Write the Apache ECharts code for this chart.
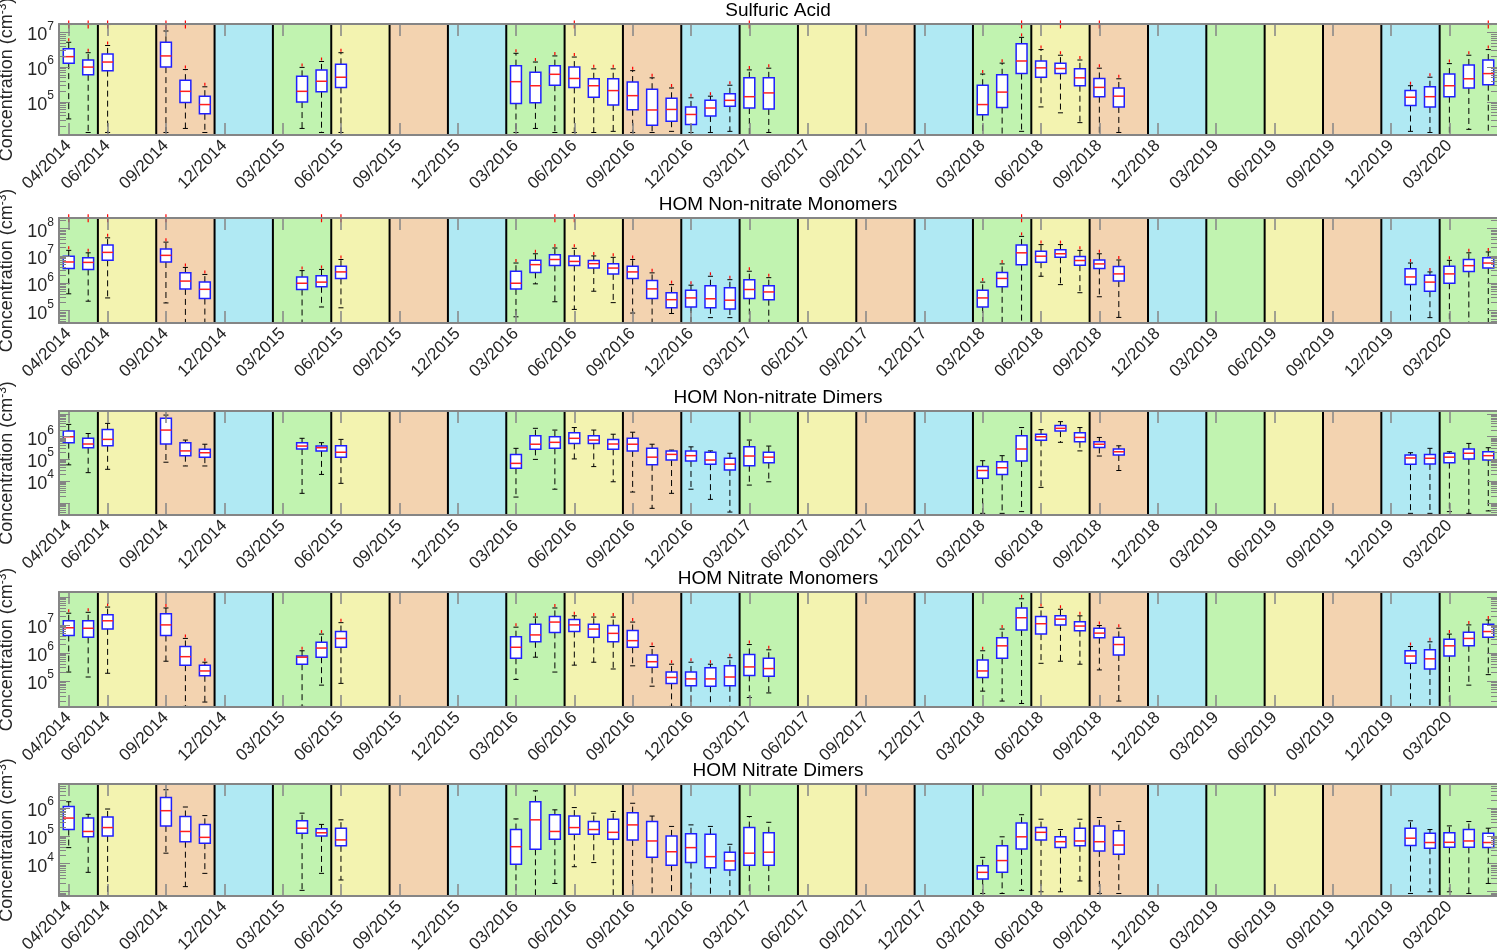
<!DOCTYPE html>
<html>
<head>
<meta charset="utf-8">
<title>Seasonal concentrations</title>
<script src="https://cdn.jsdelivr.net/npm/echarts@6/dist/echarts.min.js"></script>
<style>
  html, body { margin: 0; padding: 0; background: #fff; }
  #chart { width: 1497px; height: 950px; }
</style>
</head>
<body>
<div id="chart"></div>
<script>
// monthly categories, 04/2014 .. 05/2020
const months = [
  '04/2014','05/2014','06/2014','07/2014','08/2014','09/2014','10/2014','11/2014','12/2014',
  '01/2015','02/2015','03/2015','04/2015','05/2015','06/2015','07/2015','08/2015','09/2015','10/2015','11/2015','12/2015',
  '01/2016','02/2016','03/2016','04/2016','05/2016','06/2016','07/2016','08/2016','09/2016','10/2016','11/2016','12/2016',
  '01/2017','02/2017','03/2017','04/2017','05/2017','06/2017','07/2017','08/2017','09/2017','10/2017','11/2017','12/2017',
  '01/2018','02/2018','03/2018','04/2018','05/2018','06/2018','07/2018','08/2018','09/2018','10/2018','11/2018','12/2018',
  '01/2019','02/2019','03/2019','04/2019','05/2019','06/2019','07/2019','08/2019','09/2019','10/2019','11/2019','12/2019',
  '01/2020','02/2020','03/2020','04/2020','05/2020'
];

// labelled ticks = first month of each season
const tickLabels = [
  '04/2014','06/2014','09/2014','12/2014','03/2015','06/2015','09/2015','12/2015',
  '03/2016','06/2016','09/2016','12/2016','03/2017','06/2017','09/2017','12/2017',
  '03/2018','06/2018','09/2018','12/2018','03/2019','06/2019','09/2019','12/2019','03/2020'
];
const seasonKind = [
  'spring','summer','autumn','winter','spring','summer','autumn','winter',
  'spring','summer','autumn','winter','spring','summer','autumn','winter',
  'spring','summer','autumn','winter','spring','summer','autumn','winter','spring'
];
const seasonColor = { spring: '#c1f3b0', summer: '#f3f3b0', autumn: '#f3d3b0', winter: '#b0e9f3' };

// months that have a box
const boxMonths = [
  '04/2014','05/2014','06/2014','09/2014','10/2014','11/2014','04/2015','05/2015','06/2015',
  '03/2016','04/2016','05/2016','06/2016','07/2016','08/2016','09/2016','10/2016','11/2016',
  '12/2016','01/2017','02/2017','03/2017','04/2017',
  '03/2018','04/2018','05/2018','06/2018','07/2018','08/2018','09/2018','10/2018',
  '01/2020','02/2020','03/2020','04/2020','05/2020'
];

// [lower whisker, q1, median, q3, upper whisker] in cm-3
const sulfuricAcid = [
  [3.2e4, 1.3e6, 2.0e6, 3.4e6, 5.2e6], [1.3e4, 6.0e5, 1.0e6, 1.6e6, 2.6e6], [1.3e4, 7.9e5, 1.4e6, 2.4e6, 4.2e6],
  [1.3e4, 1.0e6, 2.1e6, 5.2e6, 1.1e7], [1.7e4, 9.5e4, 2.0e5, 4.2e5, 8.5e5], [1.3e4, 4.5e4, 8.3e4, 1.45e5, 2.7e5],
  [1.7e4, 9.8e4, 2.0e5, 5.4e5, 9.8e5], [1.3e4, 1.95e5, 3.9e5, 8.3e5, 1.45e6], [1.3e4, 2.6e5, 5.1e5, 1.2e6, 2.6e6],
  [1.3e4, 8.9e4, 3.8e5, 1.1e6, 2.5e6], [1.7e4, 9.3e4, 2.9e5, 7.1e5, 1.4e6], [1.3e4, 3.0e5, 6.2e5, 1.1e6, 2.1e6],
  [1.3e4, 2.6e5, 4.7e5, 1.0e6, 1.95e6], [1.3e4, 1.35e5, 2.9e5, 4.6e5, 8.9e5], [1.4e4, 8.1e4, 2.1e5, 4.6e5, 8.9e5],
  [1.3e4, 5.9e4, 1.5e5, 3.7e5, 7.9e5], [1.3e4, 2.1e4, 5.8e4, 2.3e5, 4.9e5], [1.4e4, 2.75e4, 6.0e4, 1.26e5, 2.5e5],
  [1.3e4, 2.2e4, 4.3e4, 7.1e4, 1.3e5], [1.3e4, 3.9e4, 6.6e4, 1.1e5, 1.45e5], [1.4e4, 7.4e4, 1.1e5, 1.7e5, 3.0e5],
  [1.1e4, 6.6e4, 1.4e5, 4.9e5, 8.3e5], [1.3e4, 6.2e4, 1.8e5, 4.9e5, 9.3e5],
  [1.1e4, 4.2e4, 8.3e4, 3.0e5, 6.3e5], [1.1e4, 6.8e4, 1.9e5, 6.0e5, 1.3e6], [1.4e4, 6.5e5, 1.5e6, 4.7e6, 7.2e6],
  [7.1e4, 5.1e5, 9.5e5, 1.5e6, 3.2e6], [4.8e4, 6.5e5, 9.1e5, 1.3e6, 2.2e6], [2.5e4, 2.9e5, 4.9e5, 8.9e5, 1.6e6],
  [1.1e4, 1.4e5, 2.6e5, 4.7e5, 9.3e5], [1.3e4, 7.1e4, 1.45e5, 2.5e5, 4.6e5],
  [1.4e4, 7.8e4, 1.35e5, 2.1e5, 2.9e5], [1.3e4, 7.1e4, 1.4e5, 2.7e5, 5.1e5], [1.1e4, 1.4e5, 2.9e5, 6.3e5, 1.26e6],
  [1.6e4, 2.5e5, 4.6e5, 1.15e6, 2.2e6], [1.1e4, 3.1e5, 6.5e5, 1.6e6, 3.2e6]
];
const nonNitrateMonomers = [
  [4.1e5, 3.5e6, 6.0e6, 9.8e6, 1.6e7], [2.2e5, 3.2e6, 5.8e6, 8.5e6, 1.3e7], [2.9e5, 6.9e6, 1.35e7, 2.5e7, 4.6e7],
  [1.9e5, 6.0e6, 1.05e7, 1.8e7, 3.2e7], [3.5e4, 6.2e5, 1.2e6, 2.4e6, 3.8e6], [3.5e4, 2.75e5, 6.0e5, 1.1e6, 2.1e6],
  [3.5e4, 5.9e5, 1.0e6, 1.7e6, 2.9e6], [1.35e5, 7.4e5, 1.1e6, 1.9e6, 3.2e6], [1.26e5, 1.5e6, 2.6e6, 4.2e6, 7.4e6],
  [5.9e4, 6.2e5, 1.0e6, 2.75e6, 5.5e6], [9.5e5, 2.5e6, 4.8e6, 6.9e6, 1.2e7], [2.1e5, 4.5e6, 7.4e6, 1.1e7, 1.95e7],
  [1.1e5, 4.5e6, 6.3e6, 1.0e7, 1.9e7], [5.1e5, 3.6e6, 5.2e6, 6.8e6, 1.0e7], [1.95e5, 2.2e6, 3.6e6, 5.2e6, 8.9e6],
  [8.1e4, 1.5e6, 2.6e6, 4.2e6, 7.4e6], [3.5e4, 2.75e5, 6.2e5, 1.26e6, 2.4e6], [7.8e4, 1.26e5, 2.5e5, 4.5e5, 8.9e5],
  [3.5e4, 1.35e5, 2.9e5, 5.5e5, 8.5e5], [5.5e4, 1.26e5, 2.7e5, 8.1e5, 1.8e6], [5.5e4, 1.15e5, 2.4e5, 6.8e5, 1.35e6],
  [3.5e4, 2.75e5, 5.9e5, 1.35e6, 2.75e6], [3.5e4, 2.5e5, 4.8e5, 8.1e5, 1.6e6],
  [3.5e4, 1.35e5, 2.9e5, 5.5e5, 1.1e6], [3.5e4, 7.4e5, 1.5e6, 2.5e6, 5.1e6], [3.5e4, 4.8e6, 1.3e7, 2.5e7, 5.2e7],
  [1.8e6, 5.9e6, 9.8e6, 1.5e7, 2.6e7], [8.9e5, 8.9e6, 1.2e7, 1.7e7, 2.6e7], [4.5e5, 4.6e6, 6.8e6, 9.5e6, 1.6e7],
  [3.2e5, 3.5e6, 5.1e6, 7.1e6, 1.2e7], [5.6e4, 1.2e6, 2.2e6, 4.1e6, 7.1e6],
  [3.5e4, 8.9e5, 1.7e6, 3.4e6, 5.5e6], [5.5e4, 5.1e5, 1.1e6, 1.95e6, 2.6e6], [3.5e4, 1.0e6, 2.2e6, 4.2e6, 6.9e6],
  [3.5e4, 2.7e6, 4.4e6, 7.4e6, 1.3e7], [3.5e4, 3.6e6, 5.5e6, 8.5e6, 1.4e7]
];
const nonNitrateDimers = [
  [5.4e4, 5.4e5, 1.0e6, 1.8e6, 3.6e6], [2.4e4, 3.2e5, 4.7e5, 8.5e5, 1.4e6], [3.4e4, 3.9e5, 7.6e5, 2.1e6, 4.0e6],
  [7.1e4, 4.7e5, 2.0e6, 6.8e6, 9.5e6], [4.8e4, 1.4e5, 2.3e5, 5.4e5, 7.1e5], [4.8e4, 1.2e5, 1.9e5, 2.7e5, 4.6e5],
  [2.8e3, 2.8e5, 3.8e5, 5.4e5, 8.5e5], [2.0e4, 2.3e5, 3.2e5, 3.8e5, 5.4e5], [7.9e3, 1.2e5, 2.0e5, 3.9e5, 7.6e5],
  [1.9e3, 3.8e4, 6.3e4, 1.6e5, 3.0e5], [9.5e4, 2.7e5, 4.6e5, 1.1e6, 2.4e6], [4.3e3, 3.0e5, 5.6e5, 1.0e6, 2.0e6],
  [1.0e5, 5.0e5, 8.5e5, 1.5e6, 2.6e6], [4.5e4, 5.0e5, 7.1e5, 1.1e6, 2.0e6], [9.3e3, 2.7e5, 4.7e5, 7.6e5, 1.3e6],
  [3.2e3, 2.3e5, 4.6e5, 8.5e5, 1.6e6], [590, 5.4e4, 1.2e5, 3.0e5, 4.6e5], [2.8e3, 8.9e4, 1.6e5, 2.3e5, 2.5e5],
  [4.3e3, 8.1e4, 1.4e5, 2.3e5, 3.5e5], [1.5e3, 5.8e4, 8.9e4, 2.0e5, 2.3e5], [400, 3.2e4, 5.8e4, 1.07e5, 1.8e5],
  [6.6e3, 4.9e4, 1.35e5, 3.5e5, 7.1e5], [9.3e3, 6.8e4, 1.2e5, 2.0e5, 3.8e5],
  [350, 1.35e4, 3.0e4, 4.5e4, 8.3e4], [350, 2.0e4, 4.0e4, 7.4e4, 1.4e5], [420, 8.1e4, 2.8e5, 1.1e6, 2.6e6],
  [5.2e3, 6.9e5, 1.0e6, 1.3e6, 2.1e6], [5.6e5, 1.8e6, 2.4e6, 3.2e6, 4.8e6], [2.3e5, 5.9e5, 9.3e5, 1.5e6, 2.6e6],
  [1.35e5, 3.3e5, 4.6e5, 5.9e5, 9.3e5], [3.0e4, 1.5e5, 2.1e5, 2.8e5, 3.9e5],
  [350, 5.8e4, 1.1e5, 1.5e5, 1.9e5], [350, 5.9e4, 1.07e5, 1.6e5, 3.0e5], [420, 6.8e4, 1.2e5, 1.8e5, 2.1e5],
  [350, 1.0e5, 1.8e5, 2.8e5, 5.0e5], [450, 8.9e4, 1.4e5, 2.1e5, 3.2e5]
];
const nitrateMonomers = [
  [2.1e5, 4.2e6, 7.9e6, 1.4e7, 2.6e7], [1.4e5, 3.6e6, 7.6e6, 1.4e7, 2.8e7], [1.9e5, 7.2e6, 1.4e7, 2.3e7, 4.3e7],
  [5.1e5, 4.2e6, 1.0e7, 2.5e7, 4.0e7], [1.26e4, 3.7e5, 7.4e5, 1.7e6, 3.3e6], [1.8e4, 1.55e5, 2.3e5, 3.7e5, 4.7e5],
  [1.26e4, 4.0e5, 7.1e5, 7.8e5, 1.2e6], [7.2e4, 7.1e5, 1.5e6, 2.4e6, 4.7e6], [8.3e4, 1.6e6, 3.3e6, 5.8e6, 1.2e7],
  [1.15e5, 6.5e5, 1.6e6, 3.8e6, 8.3e6], [7.1e5, 2.5e6, 4.4e6, 1.05e7, 1.9e7], [2.1e5, 5.4e6, 1.26e7, 2.0e7, 4.0e7],
  [3.7e5, 5.8e6, 1.0e7, 1.55e7, 2.1e7], [4.7e5, 3.6e6, 7.1e6, 1.05e7, 1.9e7], [2.7e5, 2.5e6, 5.0e6, 9.5e6, 1.9e7],
  [3.5e5, 1.6e6, 2.75e6, 6.3e6, 1.26e7], [6.6e4, 3.1e5, 4.9e5, 8.5e5, 1.7e6], [1.26e4, 8.3e4, 1.35e5, 2.1e5, 4.0e5],
  [1.2e4, 6.8e4, 1.2e5, 2.1e5, 4.7e5], [1.2e4, 6.6e4, 1.2e5, 3.0e5, 4.0e5], [1.2e4, 6.8e4, 1.4e5, 3.5e5, 6.8e5],
  [2.6e4, 1.6e5, 3.2e5, 8.9e5, 2.0e6], [3.8e4, 1.5e5, 2.8e5, 6.5e5, 1.3e6],
  [4.4e4, 1.35e5, 2.3e5, 5.6e5, 1.2e6], [1.95e4, 6.5e5, 1.8e6, 3.5e6, 7.1e6], [1.6e4, 6.6e6, 1.8e7, 4.0e7, 8.5e7],
  [4.3e5, 4.7e6, 1.1e7, 2.0e7, 4.2e7], [5.1e5, 1.0e7, 1.6e7, 2.1e7, 3.6e7], [4.0e5, 6.2e6, 9.1e6, 1.3e7, 2.1e7],
  [2.5e5, 3.5e6, 5.1e6, 7.6e6, 9.5e6], [1.95e4, 8.5e5, 2.0e6, 3.6e6, 7.6e6],
  [1.2e4, 4.3e5, 7.8e5, 1.2e6, 1.7e6], [1.2e4, 2.7e5, 6.2e5, 1.3e6, 2.5e6], [1.2e4, 7.8e5, 1.8e6, 3.1e6, 4.7e6],
  [7.2e4, 1.8e6, 3.3e6, 5.5e6, 1.0e7], [1.7e5, 3.6e6, 5.8e6, 1.05e7, 1.5e7]
];
const nitrateDimers = [
  [3.8e4, 1.7e5, 4.4e5, 1.15e6, 1.7e6], [4.9e3, 9.3e4, 1.45e5, 4.4e5, 6.0e5], [710, 1.0e5, 2.0e5, 4.8e5, 9.3e5],
  [2.4e4, 2.3e5, 8.1e5, 2.4e6, 4.6e6], [1.5e3, 6.2e4, 1.45e5, 5.0e5, 1.1e6], [4.5e3, 5.5e4, 8.9e4, 2.6e5, 5.4e5],
  [1.1e3, 1.26e5, 1.9e5, 3.5e5, 6.6e5], [4.5e3, 1.0e5, 1.3e5, 1.8e5, 2.6e5], [2.6e3, 4.4e4, 7.2e4, 1.9e5, 3.8e5],
  [710, 9.5e3, 4.1e4, 1.7e5, 4.1e5], [710, 3.3e4, 3.8e5, 1.7e6, 4.2e6], [1.95e3, 7.6e4, 1.45e5, 5.8e5, 8.7e5],
  [7.8e3, 1.15e5, 2.0e5, 5.2e5, 1.05e6], [1.1e4, 1.15e5, 1.7e5, 3.3e5, 6.6e5], [710, 7.6e4, 1.35e5, 4.0e5, 7.6e5],
  [710, 7.2e4, 2.5e5, 6.9e5, 1.5e6], [710, 1.7e4, 6.6e4, 3.3e5, 5.2e5], [710, 8.9e3, 2.7e4, 1.0e5, 2.2e5],
  [710, 1.1e4, 3.8e4, 1.2e5, 2.5e5], [710, 7.2e3, 1.8e4, 1.15e5, 2.2e5], [710, 5.9e3, 1.26e4, 2.6e4, 5.0e4],
  [710, 8.9e3, 2.4e4, 2.0e5, 5.0e5], [710, 8.9e3, 2.6e4, 1.3e5, 3.1e5],
  [850, 2.8e3, 4.9e3, 8.5e3, 1.7e4], [850, 4.9e3, 1.3e4, 4.4e4, 9.3e4], [1.1e3, 3.4e4, 9.3e4, 2.9e5, 5.8e5],
  [980, 7.2e4, 1.35e5, 2.0e5, 4.0e5], [980, 3.8e4, 6.2e4, 9.3e4, 1.7e5], [2.4e3, 4.4e4, 6.6e4, 1.9e5, 4.0e5],
  [850, 2.9e4, 6.2e4, 2.3e5, 4.6e5], [850, 2.2e4, 4.7e4, 1.55e5, 3.3e5],
  [850, 4.5e4, 8.3e4, 1.9e5, 3.5e5], [980, 3.6e4, 5.8e4, 1.26e5, 1.7e5], [980, 3.9e4, 5.9e4, 1.3e5, 2.3e5],
  [850, 3.9e4, 6.6e4, 1.7e5, 3.3e5], [1.95e3, 3.8e4, 5.8e4, 1.26e5, 1.9e5]
];

// outliers clipped at the top of the axes
const sulfuricOutlierMonths = ['04/2014','05/2014','06/2014','09/2014','10/2014','06/2016','03/2017','05/2018','07/2018','09/2018','05/2020'];
const sulfuricOutlierValue = 1.7e7;
const nonNitrateMonoOutlierMonths = ['04/2014','05/2014','06/2014','09/2014','05/2015','06/2015','05/2016','06/2016','05/2018'];
const nonNitrateMonoOutlierValue = 2.4e8;

const panels = [
  { title: 'Sulfuric Acid', data: sulfuricAcid, min: 1.1e4, max: 1.75e7, decades: [5, 6, 7],
    outMonths: sulfuricOutlierMonths, outValue: sulfuricOutlierValue, top: 24, height: 111, stub: true },
  { title: 'HOM Non-nitrate Monomers', data: nonNitrateMonomers, min: 3.5e4, max: 2.45e8, decades: [5, 6, 7, 8],
    outMonths: nonNitrateMonoOutlierMonths, outValue: nonNitrateMonoOutlierValue, top: 218, height: 105, stub: true },
  { title: 'HOM Non-nitrate Dimers', data: nonNitrateDimers, min: 295, max: 1.45e7, decades: [4, 5, 6],
    outMonths: [], outValue: 0, top: 411, height: 104, stub: false },
  { title: 'HOM Nitrate Monomers', data: nitrateMonomers, min: 1.2e4, max: 1.48e8, decades: [5, 6, 7],
    outMonths: [], outValue: 0, top: 592, height: 115, stub: true },
  { title: 'HOM Nitrate Dimers', data: nitrateDimers, min: 690, max: 7.4e6, decades: [4, 5, 6],
    outMonths: [], outValue: 0, top: 784, height: 112, stub: false }
];

const font = '"Liberation Sans", Arial, Helvetica, sans-serif';
const frame = '#858585';
const textColor = '#262626';
const seasonStart = tickLabels.map(l => months.indexOf(l));
const seasonData = seasonStart.map((s, k) => [s, k + 1 < seasonStart.length ? seasonStart[k + 1] : months.length, k]);
const isTick = (idx, value) => tickLabels.indexOf(value) >= 0;

function bandWidth(api, y) {
  return api.coord([1, y])[0] - api.coord([0, y])[0];
}

function seasonRenderer(yRef) {
  return function (params, api) {
    const cs = params.coordSys;
    const band = bandWidth(api, yRef);
    const x0 = api.coord([api.value(0), yRef])[0] - band / 2;
    const x1 = api.coord([api.value(1) - 1, yRef])[0] + band / 2;
    const children = [{
      type: 'rect',
      shape: { x: x0, y: cs.y, width: x1 - x0, height: cs.height },
      style: { fill: seasonColor[seasonKind[api.value(2)]] }
    }];
    if (api.value(0) > 0) {
      children.push({
        type: 'line',
        shape: { x1: x0, y1: cs.y, x2: x0, y2: cs.y + cs.height },
        style: { stroke: '#000', lineWidth: 2 }
      });
    }
    return { type: 'group', children: children };
  };
}

function boxRenderer(stub) {
  return function (params, api) {
    const idx = api.value(0);
    const lo = api.coord([idx, api.value(1)]);
    const q1 = api.coord([idx, api.value(2)]);
    const md = api.coord([idx, api.value(3)]);
    const q3 = api.coord([idx, api.value(4)]);
    const hi = api.coord([idx, api.value(5)]);
    const band = bandWidth(api, api.value(3));
    const w = band * 0.56;
    const c = band * 0.26;
    const x = md[0];
    const dash = { stroke: '#000', lineWidth: 1, lineDash: [6, 4] };
    const solid = { stroke: '#000', lineWidth: 1 };
    const children = [
      { type: 'line', shape: { x1: x, y1: q3[1], x2: x, y2: hi[1] }, style: dash },
      { type: 'line', shape: { x1: x, y1: q1[1], x2: x, y2: lo[1] }, style: dash },
      { type: 'line', shape: { x1: x - c / 2, y1: hi[1], x2: x + c / 2, y2: hi[1] }, style: solid },
      { type: 'line', shape: { x1: x - c / 2, y1: lo[1], x2: x + c / 2, y2: lo[1] }, style: solid },
      { type: 'rect', shape: { x: x - w / 2, y: q3[1], width: w, height: q1[1] - q3[1] },
        style: { fill: '#fff', stroke: '#1f1fff', lineWidth: 1.5 } },
      { type: 'line', shape: { x1: x - w / 2, y1: md[1], x2: x + w / 2, y2: md[1] },
        style: { stroke: '#ff2020', lineWidth: 1.5 } }
    ];
    if (stub) {
      children.push({ type: 'line', shape: { x1: x, y1: hi[1] - 4, x2: x, y2: hi[1] - 1 },
        style: { stroke: '#ff0000', lineWidth: 1.2 } });
    }
    return { type: 'group', children: children };
  };
}

function outlierRenderer(params, api) {
  const p = api.coord([api.value(0), api.value(1)]);
  const s = 4;
  const st = { stroke: '#ff0000', lineWidth: 1.2 };
  return { type: 'group', children: [
    { type: 'line', shape: { x1: p[0] - s, y1: p[1], x2: p[0] + s, y2: p[1] }, style: st },
    { type: 'line', shape: { x1: p[0], y1: p[1] - s, x2: p[0], y2: p[1] + s }, style: st }
  ] };
}

function decadeFormatter(decades) {
  return function (v) {
    const e = Math.log10(v);
    const r = Math.round(e);
    if (Math.abs(e - r) > 0.001 || decades.indexOf(r) < 0) return '';
    return '{b|10}{e|' + r + '}';
  };
}

const grid = [], xAxis = [], yAxis = [], series = [], title = [];

panels.forEach((p, i) => {
  grid.push({ left: 59, right: -1, top: p.top, height: p.height, containLabel: false, outerBoundsMode: 'none' });
  title.push({
    text: p.title, left: 778, top: p.top - 23, textAlign: 'center', padding: 0,
    textStyle: { fontFamily: font, fontSize: 19, fontWeight: 'normal', color: '#000' }
  });

  const tickStyle = { color: frame, width: 1.5 };
  xAxis.push({
    type: 'category', gridIndex: i, data: months, position: 'bottom', z: 10,
    axisLine: { show: true, lineStyle: { color: frame, width: 2 } },
    axisTick: { show: true, inside: true, length: 12, alignWithLabel: true, interval: isTick, lineStyle: tickStyle },
    axisLabel: { show: true, interval: isTick, rotate: 45, margin: 8, fontFamily: font, fontSize: 17, color: textColor },
    splitLine: { show: false }
  });
  xAxis.push({
    type: 'category', gridIndex: i, data: months, position: 'top', z: 10,
    axisLine: { show: true, lineStyle: { color: frame, width: 2 } },
    axisTick: { show: true, inside: true, length: 12, alignWithLabel: true, interval: isTick, lineStyle: tickStyle },
    axisLabel: { show: false },
    splitLine: { show: false }
  });

  const yCommon = {
    type: 'log', gridIndex: i, min: p.min, max: p.max, z: 10,
    axisLine: { show: true, lineStyle: { color: frame, width: 2 } },
    axisTick: { show: true, inside: true, length: 11, lineStyle: { color: frame, width: 1 } },
    minorTick: { show: true, splitNumber: 9, length: 7, lineStyle: { color: frame, width: 1 } },
    splitLine: { show: false },
    minorSplitLine: { show: false }
  };
  yAxis.push(Object.assign({}, yCommon, {
    position: 'left',
    name: '{n|Concentration (cm}{s|-3}{n|)}',
    nameLocation: 'middle', nameGap: 39, nameRotate: 90,
    nameTextStyle: {
      fontFamily: font, fontSize: 18, color: textColor,
      rich: {
        n: { fontFamily: font, fontSize: 18, color: textColor, lineHeight: 20, verticalAlign: 'bottom' },
        s: { fontFamily: font, fontSize: 12, color: textColor, lineHeight: 20, verticalAlign: 'top' }
      }
    },
    axisLabel: {
      show: true, margin: 5, formatter: decadeFormatter(p.decades),
      rich: {
        b: { fontFamily: font, fontSize: 18, color: textColor, lineHeight: 24, verticalAlign: 'bottom' },
        e: { fontFamily: font, fontSize: 12, color: textColor, lineHeight: 24, verticalAlign: 'top' }
      }
    }
  }));
  yAxis.push(Object.assign({}, yCommon, { position: 'right', axisLabel: { show: false } }));

  const xi = 2 * i, yi = 2 * i;
  series.push({
    type: 'custom', name: 'seasons ' + i, xAxisIndex: xi, yAxisIndex: yi, z: 1,
    renderItem: seasonRenderer(p.min), encode: { x: [0, 1] }, data: seasonData, silent: true
  });
  series.push({
    type: 'custom', name: p.title, xAxisIndex: xi, yAxisIndex: yi, z: 3,
    renderItem: boxRenderer(p.stub), encode: { x: 0, y: [1, 2, 3, 4, 5] },
    data: p.data.map((row, k) => [boxMonths[k]].concat(row))
  });
  if (p.outMonths.length) {
    series.push({
      type: 'custom', name: p.title + ' outliers', xAxisIndex: xi, yAxisIndex: yi, z: 4,
      renderItem: outlierRenderer, encode: { x: 0, y: 1 },
      data: p.outMonths.map(m => [m, p.outValue])
    });
  }
});

const chart = echarts.init(document.getElementById('chart'));
chart.setOption({
  animation: false,
  backgroundColor: '#fff',
  title: title,
  grid: grid,
  xAxis: xAxis,
  yAxis: yAxis,
  series: series
});
window.addEventListener('resize', () => chart.resize());
</script>
</body>
</html>
